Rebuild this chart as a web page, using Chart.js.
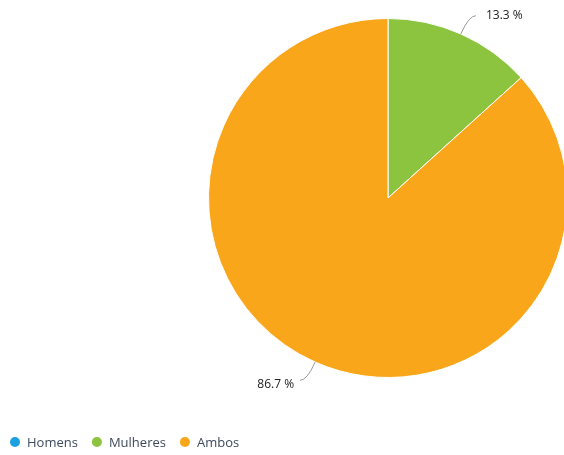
<!DOCTYPE html>
<html><head><meta charset="utf-8">
<script src="https://cdn.jsdelivr.net/npm/chart.js@4/dist/chart.umd.min.js"></script>
<style>html,body{margin:0;padding:0;background:#fff;overflow:hidden;}#wrap{width:600px;height:455px;position:relative;}</style>
</head><body>
<div id="wrap"><canvas id="c" width="600" height="455"></canvas></div>
<script>
const categories = ["Homens", "Mulheres", "Ambos"];
const values = [0, 13.3, 86.7];
const colors = ["#1ba1e2", "#8cc43f", "#faa61a"];
const valueLabels = ["0 %", "13.3 %", "86.7 %"];

const labelPlugin = {
  id: 'labelPlugin',
  afterDatasetsDraw(chart) {
    const ctx = chart.ctx;
    const meta = chart.getDatasetMeta(0);
    ctx.save();
    ctx.font = '12px "Open Sans", sans-serif';
    ctx.fillStyle = '#222';
    ctx.strokeStyle = '#999';
    ctx.lineWidth = 1;
    meta.data.forEach((arc, i) => {
      if (!values[i]) return;
      const mid = (arc.startAngle + arc.endAngle) / 2;
      const r = arc.outerRadius;
      const x0 = arc.x + Math.cos(mid) * r;
      const y0 = arc.y + Math.sin(mid) * r;
      const right = Math.cos(mid) >= 0;
      const x1 = arc.x + Math.cos(mid) * (r + 20);
      const y1 = arc.y + Math.sin(mid) * (r + 20);
      const x2 = x1 + (right ? 7 : -7);
      ctx.beginPath();
      ctx.moveTo(x0, y0);
      ctx.quadraticCurveTo(x1, y1, x2, y1);
      ctx.stroke();
      ctx.textBaseline = 'middle';
      ctx.textAlign = right ? 'left' : 'right';
      ctx.fillText(valueLabels[i], x2 + (right ? 10 : -6), y1 + (Math.sin(mid) > 0 ? 4 : 0));
    });
    // legend
    ctx.font = '13px "Open Sans", sans-serif';
    ctx.textAlign = 'left';
    ctx.textBaseline = 'middle';
    let x = 15;
    const y = 442;
    categories.forEach((c, i) => {
      ctx.fillStyle = colors[i];
      ctx.beginPath();
      ctx.arc(x, y, 5, 0, Math.PI * 2);
      ctx.fill();
      ctx.fillStyle = '#3d4a5c';
      ctx.fillText(c, x + 12, y + 1);
      x += 12 + ctx.measureText(c).width + 19;
    });
    ctx.restore();
  }
};

new Chart(document.getElementById('c'), {
  type: 'pie',
  data: {
    labels: categories,
    datasets: [{ data: values, backgroundColor: colors, borderColor: '#fff', borderWidth: 1 }]
  },
  options: {
    responsive: false,
    animation: false,
    layout: { padding: { left: 208, right: 32, top: 18, bottom: 77 } },
    plugins: { legend: { display: false }, tooltip: { enabled: false } }
  },
  plugins: [labelPlugin]
});
</script>
</body></html>
